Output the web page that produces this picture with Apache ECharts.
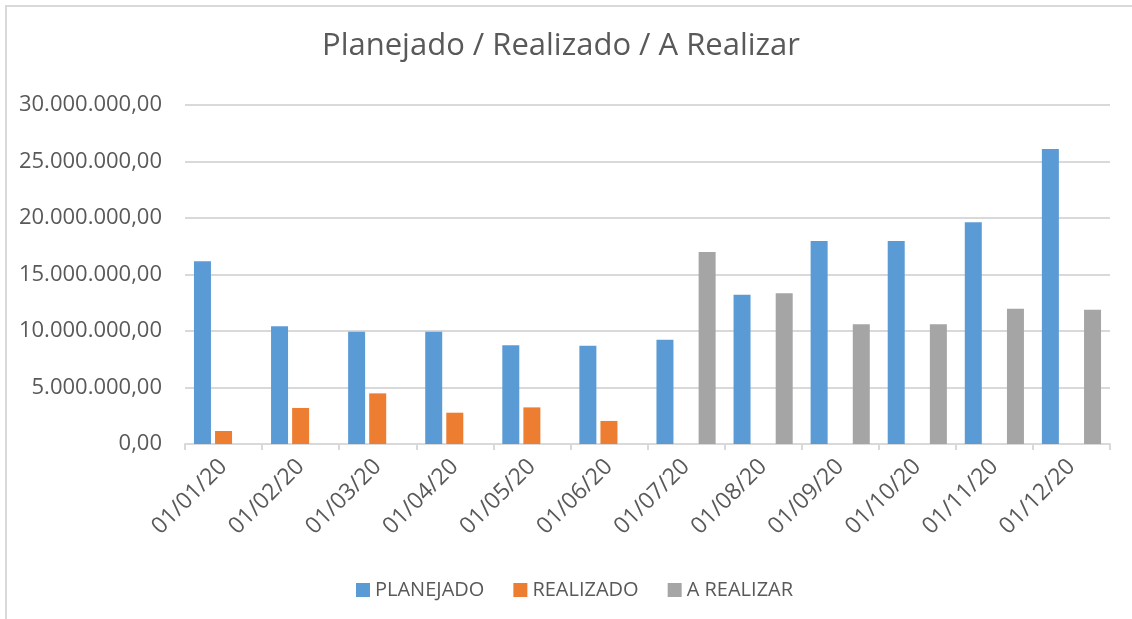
<!DOCTYPE html>
<html>
<head>
<meta charset="utf-8">
<script src="https://cdn.jsdelivr.net/npm/echarts@6/dist/echarts.min.js"></script>
<style>
  html, body { margin: 0; padding: 0; background: #fff; }
  #frame { position: absolute; left: 5px; top: 5px; width: 1200px; height: 700px;
           border-top: 2px solid #d9d9d9; border-left: 2px solid #d9d9d9; }
  #chart { position: absolute; left: 0; top: 0; width: 1132px; height: 619px; }
</style>
</head>
<body>
<div id="frame"></div>
<div id="chart"></div>
<script>
// dados
var categorias = ['01/01/20', '01/02/20', '01/03/20', '01/04/20', '01/05/20', '01/06/20',
                  '01/07/20', '01/08/20', '01/09/20', '01/10/20', '01/11/20', '01/12/20'];
var planejado = [16170000, 10410000, 9940000, 9940000, 8730000, 8700000,
                 9230000, 13210000, 17960000, 17960000, 19620000, 26100000];
var realizado = [1150000, 3190000, 4480000, 2770000, 3240000, 2040000,
                 null, null, null, null, null, null];
var aRealizar = [null, null, null, null, null, null,
                 16990000, 13330000, 10590000, 10590000, 11980000, 11890000];
var yTicks = [0, 5000000, 10000000, 15000000, 20000000, 25000000, 30000000];

var fonte = '"Open Sans", "Noto Sans", sans-serif';

// formato pt-BR: 30.000.000,00
function fmtBR(v) {
    var s = Math.round(v).toString();
    s = s.replace(/\B(?=(\d{3})+(?!\d))/g, '.');
    return s + ',00';
}

var myChart = echarts.init(document.getElementById('chart'), null, { renderer: 'canvas' });

var option = {
    animation: false,
    backgroundColor: 'transparent',
    title: {
        text: 'Planejado / Realizado / A Realizar',
        left: 317,
        top: 26,
        textStyle: {
            fontFamily: fonte,
            fontSize: 31,
            fontWeight: 'normal',
            color: '#595959'
        }
    },
    legend: {
        left: 351,
        top: 575,
        itemWidth: 14,
        itemHeight: 14,
        itemGap: 29,
        icon: 'rect',
        textStyle: {
            fontFamily: fonte,
            fontSize: 20,
            color: '#595959'
        },
        data: ['PLANEJADO', 'REALIZADO', 'A REALIZAR']
    },
    grid: {
        left: 185,
        right: 22,
        top: 105,
        bottom: 175,
        containLabel: false
    },
    xAxis: [{
        type: 'category',
        data: categorias,
        boundaryGap: true,
        axisLine: { lineStyle: { color: '#d9d9d9', width: 2 } },
        axisTick: { show: true, length: 6, lineStyle: { color: '#d9d9d9', width: 2 } },
        axisLabel: {
            interval: 0,
            rotate: 45,
            margin: 19,
            fontFamily: fonte,
            fontSize: 23,
            color: '#595959'
        }
    }],
    yAxis: [{
        type: 'value',
        min: yTicks[0],
        max: yTicks[yTicks.length - 1],
        interval: yTicks[1] - yTicks[0],
        axisLine: { show: false },
        axisTick: { show: false },
        splitLine: { lineStyle: { color: '#d9d9d9', width: 2 } },
        axisLabel: {
            margin: 23,
            fontFamily: fonte,
            fontSize: 22,
            color: '#595959',
            formatter: function(v) { return fmtBR(v); }
        }
    }],
    series: [{
        name: 'PLANEJADO',
        type: 'bar',
        data: planejado,
        barWidth: 17,
        barGap: '24%',
        itemStyle: { color: '#5B9BD5' }
    }, {
        name: 'REALIZADO',
        type: 'bar',
        data: realizado,
        barWidth: 17,
        barGap: '24%',
        itemStyle: { color: '#ED7D31' }
    }, {
        name: 'A REALIZAR',
        type: 'bar',
        data: aRealizar,
        barWidth: 17,
        barGap: '24%',
        itemStyle: { color: '#A5A5A5' }
    }]
};

myChart.setOption(option);
</script>
</body>
</html>
